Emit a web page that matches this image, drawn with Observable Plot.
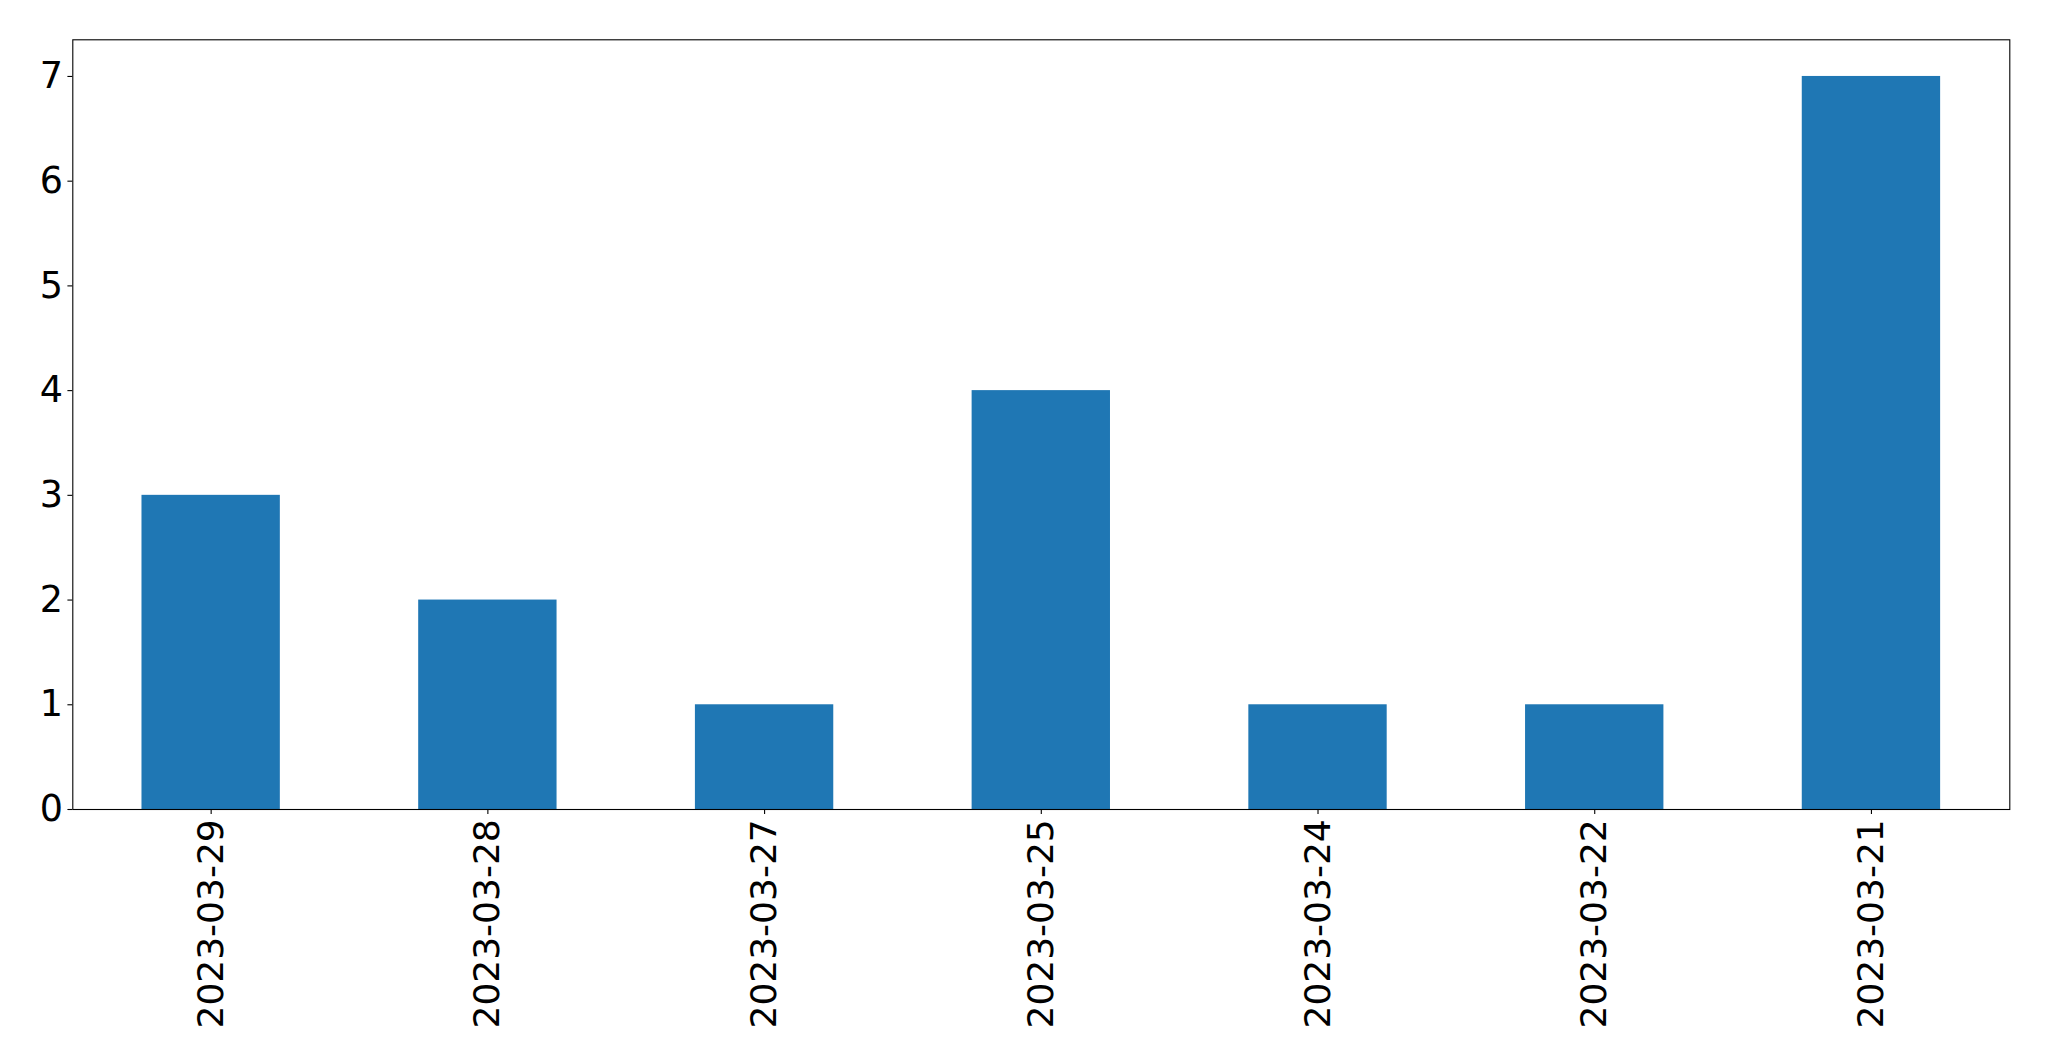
<!DOCTYPE html>
<html>
<head>
<meta charset="utf-8">
<script src="https://cdn.jsdelivr.net/npm/d3@7"></script>
<script src="https://cdn.jsdelivr.net/npm/@observablehq/plot@0.6"></script>
<style>
  html, body { margin: 0; padding: 0; background: #fff; }
  #chart svg { display: block; }
</style>
</head>
<body>
<div id="chart"></div>
<script>
const dates = ["2023-03-29", "2023-03-28", "2023-03-27", "2023-03-25", "2023-03-24", "2023-03-22", "2023-03-21"];
const counts = [3, 2, 1, 4, 1, 1, 7];
const yTicks = [0, 1, 2, 3, 4, 5, 6, 7];

const data = dates.map((d, i) => ({date: d, value: counts[i]}));

const chart = Plot.plot({
  width: 2049,
  height: 1061,
  marginLeft: 72.3,
  marginRight: 39.7,
  marginTop: 39.3,
  marginBottom: 252,
  style: {fontFamily: "DejaVu Sans", fontSize: "36px", color: "black", background: "white"},
  x: {domain: dates, paddingInner: 0.5, paddingOuter: 0.25, round: false, label: null},
  y: {domain: [0, 7.35], label: null},
  marks: [
    Plot.barY(data, {x: "date", y: "value", fill: "#1f77b4"}),
    Plot.frame({stroke: "black", strokeWidth: 1.1}),
    Plot.axisY({ticks: yTicks, tickSize: 4.9, tickPadding: 4.9, fontSize: 36.5, label: null, strokeWidth: 1.1, tickFormat: d3.format("d")}),
    Plot.axisX({tickSize: 4.9, tickPadding: 4.9, tickRotate: -90, fontSize: 36, label: null, strokeWidth: 1.1})
  ]
});
document.getElementById("chart").appendChild(chart);
</script>
</body>
</html>
